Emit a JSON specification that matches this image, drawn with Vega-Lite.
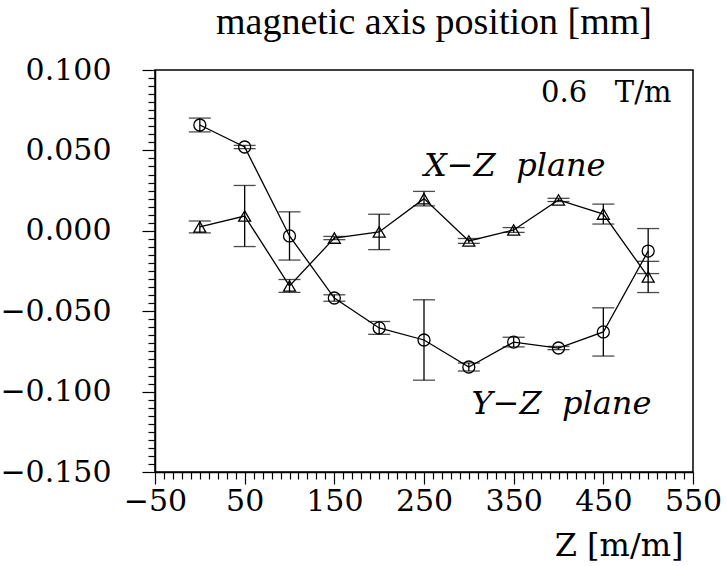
{
  "$schema": "https://vega.github.io/schema/vega-lite/v6.json",
  "width": 538,
  "height": 402,
  "autosize": {"type": "none"},
  "padding": {"left": 155, "top": 70, "right": 34, "bottom": 94},
  "background": "white",
  "title": {
    "text": "magnetic axis position [mm]",
    "font": "Liberation Serif",
    "fontSize": 38,
    "fontWeight": "normal",
    "color": "black",
    "anchor": "middle",
    "frame": "group",
    "baseline": "alphabetic",
    "offset": -17,
    "dx": 10
  },
  "config": {
    "view": {"stroke": "black", "strokeWidth": 1.5},
    "axis": {
      "grid": false,
      "domainColor": "black",
      "domainWidth": 1.5,
      "tickColor": "black",
      "tickWidth": 1.2,
      "labelFont": "DejaVu Serif",
      "labelFontSize": 30,
      "labelColor": "black",
      "labelOverlap": false,
      "labelFlush": false,
      "labelBound": false
    }
  },
  "datasets": {
    "pts": [
      {"z": 0, "v": 0.0658, "lo": 0.0615, "hi": 0.0701, "plane": "Y-Z"},
      {"z": 50, "v": 0.0521, "lo": 0.0511, "hi": 0.0531, "plane": "Y-Z"},
      {"z": 100, "v": -0.0032, "lo": -0.0182, "hi": 0.0118, "plane": "Y-Z"},
      {"z": 150, "v": -0.0418, "lo": -0.0438, "hi": -0.0398, "plane": "Y-Z"},
      {"z": 200, "v": -0.0604, "lo": -0.0644, "hi": -0.0564, "plane": "Y-Z"},
      {"z": 250, "v": -0.0679, "lo": -0.0929, "hi": -0.0429, "plane": "Y-Z"},
      {"z": 300, "v": -0.0847, "lo": -0.0872, "hi": -0.0822, "plane": "Y-Z"},
      {"z": 350, "v": -0.0692, "lo": -0.0722, "hi": -0.0662, "plane": "Y-Z"},
      {"z": 400, "v": -0.0729, "lo": -0.0739, "hi": -0.0719, "plane": "Y-Z"},
      {"z": 450, "v": -0.0629, "lo": -0.0779, "hi": -0.0479, "plane": "Y-Z"},
      {"z": 500, "v": -0.0126, "lo": -0.0266, "hi": 0.0014, "plane": "Y-Z"},
      {"z": 0, "v": 0.0024, "lo": -0.0013, "hi": 0.0061, "plane": "X-Z"},
      {"z": 50, "v": 0.0092, "lo": -0.0098, "hi": 0.0282, "plane": "X-Z"},
      {"z": 100, "v": -0.0343, "lo": -0.0383, "hi": -0.0303, "plane": "X-Z"},
      {"z": 150, "v": -0.0045, "lo": -0.0055, "hi": -0.0035, "plane": "X-Z"},
      {"z": 200, "v": -0.0007, "lo": -0.0117, "hi": 0.0103, "plane": "X-Z"},
      {"z": 250, "v": 0.0200, "lo": 0.0155, "hi": 0.0245, "plane": "X-Z"},
      {"z": 300, "v": -0.0063, "lo": -0.0078, "hi": -0.0048, "plane": "X-Z"},
      {"z": 350, "v": 0.0005, "lo": -0.0010, "hi": 0.0020, "plane": "X-Z"},
      {"z": 400, "v": 0.0192, "lo": 0.0182, "hi": 0.0202, "plane": "X-Z"},
      {"z": 450, "v": 0.0104, "lo": 0.0042, "hi": 0.0166, "plane": "X-Z"},
      {"z": 500, "v": -0.0287, "lo": -0.0384, "hi": -0.0190, "plane": "X-Z"}
    ]
  },
  "data": {"name": "pts"},
  "encoding": {
    "x": {
      "field": "z",
      "type": "quantitative",
      "scale": {"domain": [-50, 550], "nice": false, "zero": false},
      "axis": {
        "values": [-50,-40,-30,-20,-10,0,10,20,30,40,50,60,70,80,90,100,110,120,130,140,150,160,170,180,190,200,210,220,230,240,250,260,270,280,290,300,310,320,330,340,350,360,370,380,390,400,410,420,430,440,450,460,470,480,490,500,510,520,530,540,550],
        "format": "d",
        "labelExpr": "(datum.value + 50) % 100 == 0 ? datum.label : ''",
        "tickSize": {"condition": {"test": "(datum.value + 50) % 100 == 0", "value": 12}, "value": 7},
        "labelPadding": 2,
        "title": "Z [m/m]",
        "titleFont": "DejaVu Serif",
        "titleFontSize": 32,
        "titleFontWeight": "normal",
        "titleColor": "black",
        "titleAnchor": "end",
        "titleAlign": "right",
        "titleBaseline": "alphabetic",
        "titleX": 528,
        "titleY": 83
      }
    },
    "y": {
      "field": "v",
      "type": "quantitative",
      "scale": {"domain": [-0.15, 0.1], "nice": false, "zero": false},
      "axis": {
        "values": [-0.15,-0.145,-0.14,-0.135,-0.13,-0.125,-0.12,-0.115,-0.11,-0.105,-0.1,-0.095,-0.09,-0.085,-0.08,-0.075,-0.07,-0.065,-0.06,-0.055,-0.05,-0.045,-0.04,-0.035,-0.03,-0.025,-0.02,-0.015,-0.01,-0.005,0,0.005,0.01,0.015,0.02,0.025,0.03,0.035,0.04,0.045,0.05,0.055,0.06,0.065,0.07,0.075,0.08,0.085,0.09,0.095,0.1],
        "format": ".3f",
        "labelExpr": "abs(datum.value * 20 - round(datum.value * 20)) < 0.001 ? datum.label : ''",
        "tickSize": {"condition": {"test": "abs(datum.value * 20 - round(datum.value * 20)) < 0.001", "value": 13}, "value": 7},
        "labelPadding": 31,
        "title": null
      }
    }
  },
  "layer": [
    {
      "mark": {"type": "line", "color": "black", "strokeWidth": 1.3},
      "encoding": {"detail": {"field": "plane"}}
    },
    {
      "mark": {"type": "rule", "color": "black", "strokeWidth": 1.3},
      "encoding": {"y": {"field": "lo", "type": "quantitative"}, "y2": {"field": "hi"}}
    },
    {
      "mark": {"type": "tick", "orient": "horizontal", "color": "black", "size": 22, "thickness": 1.3},
      "encoding": {"y": {"field": "lo", "type": "quantitative"}}
    },
    {
      "mark": {"type": "tick", "orient": "horizontal", "color": "black", "size": 22, "thickness": 1.3},
      "encoding": {"y": {"field": "hi", "type": "quantitative"}}
    },
    {
      "mark": {"type": "point", "filled": false, "stroke": "black", "strokeWidth": 1.3, "size": 144, "opacity": 1},
      "encoding": {
        "shape": {"field": "plane", "type": "nominal", "scale": {"domain": ["Y-Z", "X-Z"], "range": ["circle", "triangle-up"]}, "legend": null}
      }
    },
    {
      "data": {"values": [{"z": 526, "v": 0.080, "t": "0.6\u00a0\u00a0\u00a0T/m"}]},
      "mark": {"type": "text", "font": "DejaVu Serif", "fontSize": 29, "align": "right", "baseline": "alphabetic", "color": "black"},
      "encoding": {"text": {"field": "t"}}
    },
    {
      "data": {"values": [{"z": 250, "v": 0.034, "t": "X\u2212Z\u00a0\u00a0plane"}, {"z": 303, "v": -0.114, "t": "Y\u2212Z\u00a0\u00a0plane"}]},
      "mark": {"type": "text", "font": "DejaVu Serif", "fontSize": 32, "fontStyle": "italic", "align": "left", "baseline": "alphabetic", "color": "black"},
      "encoding": {"text": {"field": "t"}}
    }
  ]
}
